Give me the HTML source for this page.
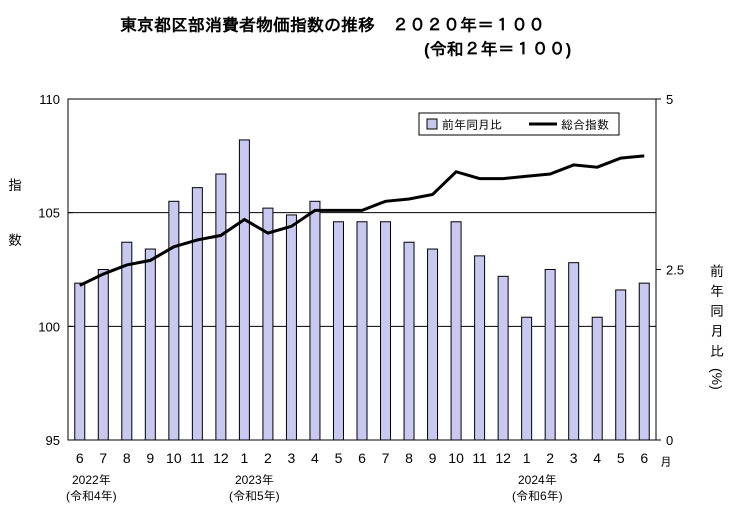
<!DOCTYPE html>
<html><head><meta charset="utf-8"><style>
html,body{margin:0;padding:0;background:#fff;}
svg text{font-family:"Liberation Sans","IPAGothic","Noto Sans CJK JP",sans-serif;fill:#000;}
</style></head><body>
<svg width="737" height="519" xmlns="http://www.w3.org/2000/svg">
<text x="120" y="31" font-size="17" font-weight="bold">東京都区部消費者物価指数の推移　２０２０年＝１００</text>
<text x="424" y="55" font-size="17" font-weight="bold">(令和２年＝１００)</text>
<g id="plot"></g>
</svg>
<script>
const months=["6","7","8","9","10","11","12","1","2","3","4","5","6","7","8","9","10","11","12","1","2","3","4","5","6"];
const yoy=[2.3,2.5,2.9,2.8,3.5,3.7,3.9,4.4,3.4,3.3,3.5,3.2,3.2,3.2,2.9,2.8,3.2,2.7,2.4,1.8,2.5,2.6,1.8,2.2,2.3];
const index=[101.8,102.3,102.7,102.9,103.5,103.8,104.0,104.7,104.1,104.4,105.1,105.1,105.1,105.5,105.6,105.8,106.8,106.5,106.5,106.6,106.7,107.1,107.0,107.4,107.5];
const leftTicks=[95,100,105,110];
const rightTicks=[0,2.5,5];
const NS="http://www.w3.org/2000/svg";
const g=document.getElementById('plot');
const L=68,R=656,T=99,B=440;
const cw=(R-L)/months.length;
const xC=i=>L+cw*(i+0.5);
const yL=v=>B-(v-95)/15*(B-T);
const yR=v=>B-v/5*(B-T);
function mk(t,a){const e=document.createElementNS(NS,t);for(const k in a)e.setAttribute(k,a[k]);g.appendChild(e);return e;}
// gridlines
[100,105].forEach(v=>{const e=mk('line',{x1:L,x2:R,y1:yL(v),y2:yL(v),stroke:'#000','stroke-width':1});

});
// bars
yoy.forEach((v,i)=>{const e=mk('rect',{x:xC(i)-5,y:yR(v),width:10,height:B-yR(v),fill:'#c8c8f0',stroke:'#000','stroke-width':1});

});
// line
const ln=mk('polyline',{points:index.map((v,i)=>xC(i)+','+yL(v)).join(' '),fill:'none',stroke:'#000','stroke-width':3});


// frame
const fr=mk('rect',{x:L,y:T,width:R-L,height:B-T,fill:'none',stroke:'#000','stroke-width':1});


// left ticks
leftTicks.forEach(v=>{const t=mk('line',{x1:L,x2:L+5,y1:yL(v),y2:yL(v),stroke:'#000'});


const tx=mk('text',{x:L-8,y:yL(v)+5,'font-size':13,'text-anchor':'end'});tx.textContent=v;

});
rightTicks.forEach(v=>{const t=mk('line',{x1:R,x2:R+5,y1:yR(v),y2:yR(v),stroke:'#000'});


const tx=mk('text',{x:R+10,y:yR(v)+5,'font-size':13});tx.textContent=v;

});
months.forEach((m,i)=>{const tx=mk('text',{x:xC(i),y:463,'font-size':14,'text-anchor':'middle'});tx.textContent=m;

});
</script>
<svg width="737" height="519" style="position:absolute;left:0;top:0" xmlns="http://www.w3.org/2000/svg">
<text x="660" y="466" font-size="12">月</text>
<text x="72" y="484" font-size="12">2022年</text>
<text x="66" y="500" font-size="12">(令和4年)</text>
<text x="235" y="484" font-size="12">2023年</text>
<text x="229" y="500" font-size="12">(令和5年)</text>
<text x="518" y="484" font-size="12">2024年</text>
<text x="512" y="500" font-size="12">(令和6年)</text>
<text x="8" y="190" font-size="14">指</text>
<text x="8" y="245" font-size="14">数</text>
<g font-size="14">
<text x="710" y="276">前</text><text x="710" y="296">年</text><text x="710" y="316">同</text><text x="710" y="336">月</text><text x="710" y="356">比</text>
<text x="710" y="380" transform="rotate(90 717 375)">(%)</text>
</g>
<g>
<rect x="419" y="113" width="200" height="22" fill="#fff" stroke="#000"/>
<rect x="427" y="119" width="10" height="10" fill="#c8c8f0" stroke="#000"/>
<text x="442" y="129" font-size="12">前年同月比</text>
<line x1="529" y1="124" x2="557" y2="124" stroke="#000" stroke-width="3"/>
<text x="561" y="129" font-size="12">総合指数</text>
</g>
</svg>
</body></html>
